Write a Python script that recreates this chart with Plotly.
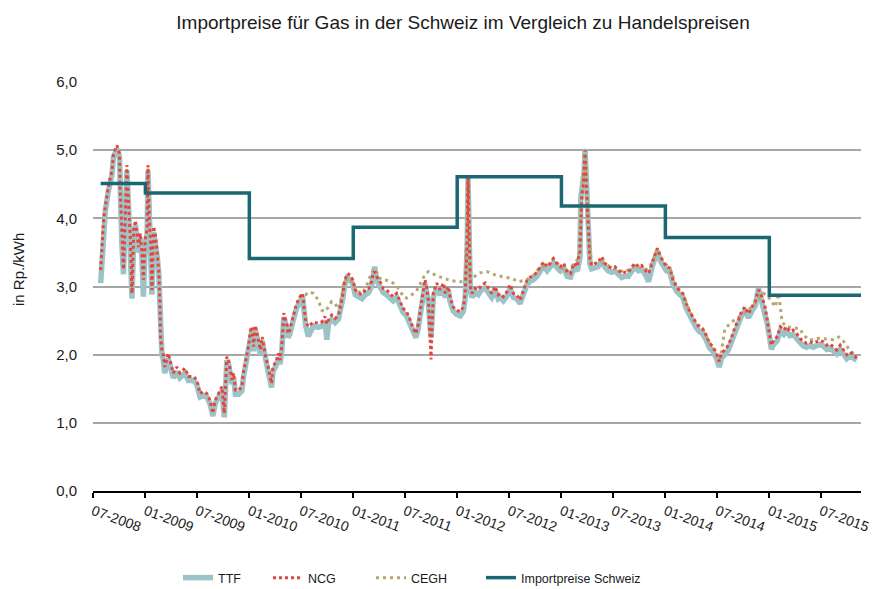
import plotly.graph_objects as go

# ---------------- data ----------------
spot_dates = [
"2008-07-28","2008-08-07","2008-08-13","2008-08-24","2008-09-06","2008-09-11","2008-09-23","2008-10-02","2008-10-04","2008-10-10",
"2008-10-16","2008-10-22","2008-10-28","2008-11-03","2008-11-09","2008-11-15","2008-11-21","2008-11-27","2008-12-08","2008-12-14",
"2008-12-20","2008-12-25","2009-01-01","2009-01-07","2009-01-10","2009-01-15","2009-01-21","2009-01-24","2009-01-30","2009-02-06",
"2009-02-12","2009-02-17","2009-02-21","2009-02-23","2009-02-28","2009-03-04","2009-03-10","2009-03-22","2009-03-28","2009-04-09",
"2009-04-21","2009-05-02","2009-05-20","2009-06-01","2009-06-19","2009-06-30","2009-07-12","2009-07-23","2009-08-05","2009-08-16",
"2009-08-26","2009-09-03","2009-09-15","2009-09-27","2009-10-05","2009-10-14","2009-10-20","2009-11-01","2009-11-07","2009-11-13",
"2009-11-24","2009-12-06","2009-12-11","2009-12-23","2009-12-29","2010-01-05","2010-01-10","2010-01-16","2010-01-22","2010-01-28",
"2010-02-09","2010-02-15","2010-02-27","2010-03-08","2010-03-20","2010-03-25","2010-04-07","2010-04-13","2010-04-19","2010-04-25",
"2010-05-02","2010-05-12","2010-05-17","2010-05-23","2010-06-04","2010-06-16","2010-06-28","2010-07-07","2010-07-18","2010-07-27",
"2010-08-14","2010-08-31","2010-09-13","2010-09-24","2010-09-30","2010-10-06","2010-10-17","2010-10-29","2010-11-10","2010-11-16",
"2010-11-26","2010-12-01","2010-12-11","2010-12-21","2010-12-30","2011-01-08","2011-01-20","2011-02-01","2011-02-13","2011-02-24",
"2011-03-06","2011-03-11","2011-03-17","2011-03-25","2011-04-05","2011-04-16","2011-04-28","2011-05-09","2011-05-21","2011-06-02",
"2011-06-14","2011-06-25","2011-07-07","2011-07-18","2011-07-30","2011-08-09","2011-08-17","2011-08-26","2011-09-04","2011-09-10",
"2011-09-16","2011-09-22","2011-10-01","2011-10-09","2011-10-21","2011-11-02","2011-11-14","2011-11-20","2011-12-01","2011-12-07",
"2011-12-18","2011-12-30","2012-01-12","2012-01-23","2012-01-29","2012-02-05","2012-02-08","2012-02-12","2012-02-16","2012-02-22",
"2012-03-03","2012-03-15","2012-03-27","2012-04-08","2012-04-20","2012-05-01","2012-05-13","2012-05-24","2012-05-30","2012-06-11",
"2012-06-23","2012-07-05","2012-07-16","2012-07-28","2012-08-09","2012-08-21","2012-09-02","2012-09-14","2012-09-25","2012-10-07",
"2012-10-19","2012-10-30","2012-11-12","2012-11-23","2012-12-04","2012-12-16","2012-12-28","2013-01-09","2013-01-21","2013-02-02",
"2013-02-14","2013-02-26","2013-03-01","2013-03-07","2013-03-10","2013-03-14","2013-03-18","2013-03-22","2013-03-25","2013-03-30",
"2013-04-03","2013-04-07","2013-04-11","2013-04-17","2013-04-29","2013-05-10","2013-05-22","2013-06-03","2013-06-15","2013-06-27",
"2013-07-08","2013-07-20","2013-08-01","2013-08-13","2013-08-24","2013-09-06","2013-09-17","2013-09-29","2013-10-10","2013-10-22",
"2013-11-03","2013-11-15","2013-11-27","2013-12-04","2013-12-14","2013-12-25","2014-01-05","2014-01-17","2014-01-28","2014-02-10",
"2014-02-21","2014-03-03","2014-03-15","2014-03-26","2014-04-07","2014-04-19","2014-04-30","2014-05-12","2014-05-24","2014-06-05",
"2014-06-17","2014-06-29","2014-07-09","2014-07-17","2014-07-29","2014-08-10","2014-08-22","2014-09-03","2014-09-15","2014-09-27",
"2014-10-08","2014-10-20","2014-11-01","2014-11-13","2014-11-24","2014-12-06","2014-12-17","2014-12-25","2015-01-02","2015-01-08",
"2015-01-16","2015-01-28","2015-02-09","2015-02-21","2015-03-02","2015-03-14","2015-03-25","2015-04-07","2015-04-19","2015-04-30",
"2015-05-12","2015-05-23","2015-06-04","2015-06-16","2015-06-28","2015-07-09","2015-07-21","2015-08-02","2015-08-14","2015-08-26",
"2015-09-07","2015-09-18","2015-09-30","2015-10-11","2015-10-23","2015-11-04",
]

ncg = [
3.24,3.97,4.17,4.46,4.71,4.95,5.07,4.95,4.46,3.73,
3.25,3.97,4.78,4.22,3.73,2.90,3.83,3.97,3.58,3.78,
3.49,3.10,3.73,3.83,4.78,3.97,3.49,2.95,3.88,3.73,
3.49,3.24,2.75,2.26,2.07,2.02,1.82,2.02,1.92,1.73,
1.82,1.73,1.80,1.68,1.68,1.63,1.43,1.46,1.43,1.33,
1.14,1.33,1.43,1.53,1.14,1.97,1.92,1.63,1.73,1.48,
1.48,1.53,1.73,1.97,2.12,2.36,2.41,2.12,2.43,2.31,
2.07,2.26,1.97,1.82,1.58,1.82,1.92,2.02,1.92,2.12,
2.61,2.46,2.31,2.36,2.56,2.75,2.85,2.90,2.48,2.41,
2.48,2.46,2.48,2.56,2.45,2.51,2.58,2.53,2.58,2.68,
2.90,3.07,3.19,3.17,3.10,2.95,2.90,2.88,2.95,2.97,
3.07,3.17,3.22,3.14,3.07,2.97,2.95,2.90,2.85,2.90,
2.78,2.68,2.63,2.53,2.39,2.31,2.44,2.68,2.95,3.10,
2.97,2.80,1.93,2.90,3.05,2.95,3.05,2.90,3.00,2.85,
2.70,2.65,2.63,2.70,2.90,3.63,4.63,3.63,3.00,2.90,
2.97,2.95,3.02,3.05,2.97,2.90,3.00,2.88,2.90,2.85,
2.92,3.03,2.90,2.88,2.80,2.95,3.09,3.14,3.16,3.21,
3.29,3.36,3.29,3.34,3.41,3.34,3.29,3.34,3.21,3.19,
3.34,3.29,3.41,3.48,3.88,4.37,4.46,4.71,5.00,4.46,
4.00,3.75,3.38,3.31,3.34,3.35,3.44,3.34,3.29,3.27,
3.29,3.24,3.19,3.21,3.21,3.29,3.34,3.29,3.31,3.24,
3.19,3.34,3.48,3.56,3.44,3.36,3.29,3.27,3.09,2.99,
2.93,2.90,2.75,2.65,2.56,2.46,2.41,2.38,2.29,2.17,
2.12,2.02,1.90,2.02,2.07,2.14,2.26,2.41,2.51,2.65,
2.70,2.60,2.70,2.78,2.95,2.85,2.70,2.51,2.31,2.14,
2.21,2.26,2.41,2.36,2.41,2.34,2.36,2.31,2.24,2.19,
2.17,2.19,2.17,2.19,2.21,2.19,2.14,2.16,2.12,2.07,
2.14,2.07,2.00,2.04,2.00,1.95,
]

ttf = [
3.05,3.90,4.10,4.40,4.65,4.90,5.02,4.90,4.40,3.65,
3.18,3.90,4.70,4.15,3.65,2.82,3.75,3.90,3.50,3.70,
3.42,2.85,3.65,3.75,4.70,3.90,3.42,2.88,3.80,3.65,
3.42,3.18,2.68,2.20,2.00,1.95,1.73,1.95,1.85,1.66,
1.75,1.66,1.73,1.62,1.62,1.57,1.38,1.40,1.38,1.28,
1.10,1.28,1.38,1.47,1.08,1.92,1.86,1.57,1.66,1.42,
1.42,1.47,1.66,1.92,2.05,2.30,2.35,2.05,2.37,2.25,
2.00,2.20,1.90,1.75,1.52,1.75,1.86,1.95,1.86,2.05,
2.55,2.40,2.25,2.30,2.50,2.68,2.78,2.85,2.42,2.27,
2.42,2.40,2.42,2.50,2.22,2.45,2.52,2.47,2.52,2.62,
2.84,3.00,3.13,3.10,3.04,2.88,2.84,2.82,2.88,2.91,
3.00,3.10,3.29,3.08,3.00,2.91,2.88,2.84,2.79,2.84,
2.72,2.62,2.57,2.47,2.33,2.25,2.38,2.62,2.88,3.04,
2.91,2.74,2.25,2.84,2.98,2.88,2.98,2.84,2.94,2.78,
2.64,2.59,2.57,2.64,2.84,3.58,4.60,3.58,2.94,2.84,
2.91,2.88,2.96,2.98,2.91,2.84,2.94,2.82,2.84,2.79,
2.86,2.97,2.84,2.82,2.75,2.89,3.03,3.08,3.10,3.15,
3.23,3.30,3.23,3.28,3.35,3.28,3.23,3.28,3.15,3.14,
3.28,3.23,3.35,3.42,4.30,4.42,4.45,4.70,5.02,4.45,
4.00,3.72,3.33,3.26,3.28,3.29,3.38,3.28,3.23,3.21,
3.23,3.18,3.13,3.15,3.15,3.23,3.28,3.23,3.25,3.18,
3.07,3.28,3.42,3.52,3.38,3.30,3.23,3.21,3.03,2.93,
2.87,2.84,2.68,2.58,2.49,2.40,2.34,2.31,2.22,2.10,
2.05,1.95,1.82,1.95,2.00,2.07,2.20,2.35,2.45,2.59,
2.64,2.54,2.64,2.72,2.97,2.79,2.64,2.45,2.25,2.08,
2.15,2.20,2.35,2.30,2.35,2.28,2.30,2.25,2.18,2.13,
2.11,2.13,2.11,2.13,2.15,2.13,2.08,2.10,2.06,2.01,
2.08,2.01,1.94,1.98,1.95,1.92,
]

cegh_dates = [
"2010-06-28","2010-07-07","2010-07-18","2010-07-27","2010-08-14","2010-08-31","2010-09-13","2010-09-24","2010-10-06","2010-10-17",
"2010-10-29","2010-11-10","2010-11-16","2010-11-26","2010-12-01","2010-12-11","2010-12-21","2010-12-30","2011-01-08","2011-01-20",
"2011-02-01","2011-02-13","2011-02-24","2011-03-06","2011-03-17","2011-03-25","2011-04-05","2011-04-16","2011-04-28","2011-05-09",
"2011-05-21","2011-06-02","2011-06-14","2011-06-25","2011-07-07","2011-07-18","2011-07-30","2011-08-09","2011-08-26","2011-09-10",
"2011-09-22","2011-10-15","2011-11-14","2011-12-07","2012-01-06","2012-01-29","2012-02-08","2012-02-16","2012-03-03","2012-03-21",
"2012-04-14","2012-05-13","2012-06-11","2012-07-10","2012-08-03","2012-09-02","2012-09-14","2012-09-25","2012-10-19","2012-11-12",
"2012-12-04","2012-12-28","2013-01-21","2013-02-14","2013-03-01","2013-03-14","2013-03-25","2013-04-07","2013-04-17","2013-05-10",
"2013-06-03","2013-06-27","2013-07-20","2013-08-13","2013-09-06","2013-09-29","2013-10-22","2013-11-15","2013-12-04","2013-12-25",
"2014-01-17","2014-02-10","2014-03-03","2014-03-26","2014-04-19","2014-05-12","2014-06-05","2014-06-29","2014-07-09","2014-07-17",
"2014-07-29","2014-08-22","2014-09-15","2014-10-08","2014-11-01","2014-11-18","2014-12-11","2014-12-25","2015-01-08","2015-01-22",
"2015-02-03","2015-02-09","2015-02-15","2015-03-02","2015-03-25","2015-04-19","2015-04-30","2015-05-23","2015-06-22","2015-07-21",
"2015-08-14","2015-09-01","2015-09-18","2015-10-06","2015-10-29",
]

cegh = [
2.85,2.90,2.88,2.92,2.90,2.80,2.65,2.63,2.70,2.78,
2.75,2.67,2.75,2.95,3.07,3.12,3.10,3.05,2.95,2.92,
2.90,2.97,3.09,3.20,3.26,3.20,3.12,3.09,3.09,3.07,
3.05,3.00,2.95,2.85,2.83,2.86,2.90,2.92,3.05,3.18,
3.22,3.17,3.12,3.09,3.07,3.07,4.55,3.10,3.15,3.20,
3.22,3.17,3.14,3.12,3.07,3.10,3.14,3.16,3.29,3.29,
3.41,3.29,3.21,3.34,3.41,4.30,4.90,3.75,3.31,3.35,
3.34,3.27,3.24,3.21,3.29,3.29,3.24,3.34,3.55,3.36,
3.27,2.99,2.90,2.65,2.46,2.38,2.17,2.02,1.92,2.05,
2.38,2.48,2.55,2.63,2.70,2.78,2.90,2.87,2.78,2.70,
2.90,2.66,2.48,2.41,2.40,2.38,2.29,2.21,2.24,2.23,
2.22,2.26,2.20,2.09,1.99,
]

import_dates = ["2008-07-28","2009-01-01","2010-01-01","2011-01-01","2012-01-01",
                "2013-01-01","2014-01-01","2015-01-01","2015-11-19"]
import_ch = [4.51, 4.37, 3.41, 3.87, 4.61, 4.18, 3.72, 2.87, 2.87]

series_names = ["TTF", "NCG", "CEGH", "Importpreise Schweiz"]
y_ticks = [0, 1, 2, 3, 4, 5, 6]

# ---------------- figure ----------------
# The page body adds an 8 px margin, so the figure is 8 px smaller than the window.
FONT = "Liberation Sans, Arial, Helvetica, sans-serif"
TXT = "#1a1a1a"
W, H = 870, 581
ML, MR, MT, MB = 85, 17, 74, 98
PW = W - ML - MR   # 768
PH = H - MT - MB   # 409

def px_x(x):  # page x -> paper fraction
    return (x - 8 - ML) / PW

def px_y(y):  # page y -> paper fraction
    return (H - MB - (y - 8)) / PH

fig = go.Figure()
fig.add_trace(go.Scatter(x=spot_dates, y=ttf, name=series_names[0], mode="lines",
                         line=dict(color="#9cc3c7", width=5.5), legend="legend"))
fig.add_trace(go.Scatter(x=cegh_dates, y=cegh, name=series_names[2], mode="lines",
                         line=dict(color="#b9a66f", width=3, dash="3px,4px"), legend="legend3"))
fig.add_trace(go.Scatter(x=spot_dates, y=ncg, name=series_names[1], mode="lines",
                         line=dict(color="#e8443a", width=3, dash="3px,3px"), legend="legend2"))
fig.add_trace(go.Scatter(x=import_dates, y=import_ch, name=series_names[3], mode="lines",
                         line=dict(color="#1b6872", width=3.5, shape="hv"), legend="legend4"))

leg_font = dict(family=FONT, size=12.5, color=TXT)
leg_y = px_y(578)
def leg(xpage):
    return dict(orientation="h", x=px_x(xpage), xanchor="left", y=leg_y, yanchor="middle",
                font=leg_font, bgcolor="rgba(0,0,0,0)", borderwidth=0)

fig.update_layout(
    width=W, height=H,
    margin=dict(l=ML, r=MR, t=MT, b=MB, autoexpand=False),
    paper_bgcolor="white", plot_bgcolor="white",
    separators=", ",
    font=dict(family=FONT, size=15, color=TXT),
    title=dict(text="Importpreise für Gas in der Schweiz im Vergleich zu Handelspreisen",
               x=px_x(463), xref="paper", xanchor="center",
               y=1 - (22 - 8) / H, yref="container", yanchor="middle",
               font=dict(family=FONT, size=19, color=TXT)),
    showlegend=True,
    legend=leg(178),
    legend2=leg(268),
    legend3=leg(371),
    legend4=leg(481),
    xaxis=dict(type="date", range=["2008-07-01", "2015-11-19"], automargin=False,
               tick0="2008-07-01", dtick="M6", tickformat="%m-%Y", tickangle=20,
               showgrid=False, zeroline=False,
               showline=True, linecolor="black", linewidth=2,
               ticks="outside", ticklen=5, tickwidth=2, tickcolor="black",
               tickfont=dict(family=FONT, size=14, color=TXT)),
    yaxis=dict(range=[0, 6], tickvals=y_ticks, tickformat=".1f", automargin=False,
               showgrid=True, gridcolor="#a6a6a6", gridwidth=2,
               zeroline=False, showline=False,
               ticks="outside", ticklen=12, tickcolor="rgba(0,0,0,0)",
               tickfont=dict(family=FONT, size=15, color=TXT)),
    annotations=[dict(text="in Rp./kWh", textangle=-90, showarrow=False,
                      xref="paper", yref="paper", x=px_x(18), y=px_y(270),
                      xanchor="center", yanchor="middle",
                      font=dict(family=FONT, size=15, color=TXT))],
)

fig.write_html("out.html")
